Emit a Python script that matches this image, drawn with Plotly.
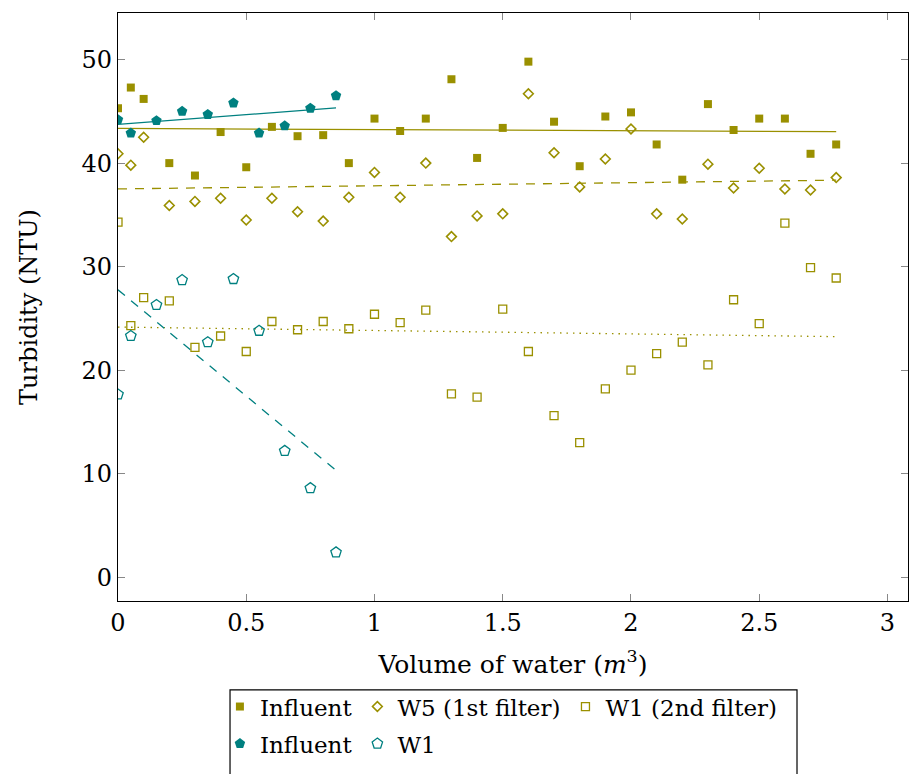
import numpy as np
import plotly.graph_objects as go

# ---- data ----
x_olive = [0, 0.05, 0.1, 0.2, 0.3, 0.4, 0.5, 0.6, 0.7, 0.8, 0.9, 1.0, 1.1, 1.2, 1.3,
           1.4, 1.5, 1.6, 1.7, 1.8, 1.9, 2.0, 2.1, 2.2, 2.3, 2.4, 2.5, 2.6, 2.7, 2.8]
influent_olive = [45.3, 47.3, 46.2, 40.0, 38.8, 43.0, 39.6, 43.5, 42.6, 42.7, 40.0, 44.3, 43.1, 44.3, 48.1,
                  40.5, 43.4, 49.8, 44.0, 39.7, 44.5, 44.9, 41.8, 38.4, 45.7, 43.2, 44.3, 44.3, 40.9, 41.8]
w5_first = [40.9, 39.8, 42.5, 35.9, 36.3, 36.6, 34.5, 36.6, 35.3, 34.4, 36.7, 39.1, 36.7, 40.0, 32.9,
            34.9, 35.1, 46.7, 41.0, 37.7, 40.4, 43.3, 35.1, 34.6, 39.9, 37.6, 39.5, 37.5, 37.4, 38.6]
w1_second = [34.3, 24.3, 27.0, 26.7, 22.2, 23.3, 21.8, 24.7, 23.9, 24.7, 24.0, 25.4, 24.6, 25.8, 17.7,
             17.4, 25.9, 21.8, 15.6, 13.0, 18.2, 20.0, 21.6, 22.7, 20.5, 26.8, 24.5, 34.2, 29.9, 28.9]

x_teal = [0, 0.05, 0.15, 0.25, 0.35, 0.45, 0.55, 0.65, 0.75, 0.85]
influent_teal = [44.2, 42.9, 44.1, 45.0, 44.7, 45.8, 42.9, 43.6, 45.3, 46.5]
w1_teal = [17.65, 23.3, 26.3, 28.7, 22.7, 28.8, 23.8, 12.2, 8.6, 2.4]

x_ticks = [0, 0.5, 1, 1.5, 2, 2.5, 3]
x_tick_labels = ["0", "0.5", "1", "1.5", "2", "2.5", "3"]
y_ticks = [0, 10, 20, 30, 40, 50]

OLIVE = "#9a9000"
TEAL = "#008080"
FONT = "DejaVu Serif"

fig = go.Figure()


def fit_line(x, y):
    x = np.asarray(x, float)
    a, b = np.polyfit(x, np.asarray(y, float), 1)
    xs = np.array([x.min(), x.max()])
    return xs, a * xs + b


# regression lines
for x, y, col, dash in [
    (x_olive, influent_olive, OLIVE, "solid"),
    (x_olive, w5_first, OLIVE, "9px,8px"),
    (x_olive, w1_second, OLIVE, "1.5px,5px"),
    (x_teal, influent_teal, TEAL, "solid"),
    (x_teal, w1_teal, TEAL, "9px,8px"),
]:
    xs, ys = fit_line(x, y)
    fig.add_trace(go.Scatter(x=xs, y=ys, mode="lines", showlegend=False, hoverinfo="skip",
                             line=dict(color=col, width=1.3, dash=dash)))

# markers
fig.add_trace(go.Scatter(x=x_olive, y=influent_olive, mode="markers", name="Influent",
                         marker=dict(symbol="square", size=8, color=OLIVE), legend="legend"))
fig.add_trace(go.Scatter(x=x_olive, y=w5_first, mode="markers", name="W5 (1st filter)",
                         marker=dict(symbol="diamond-open", size=7.5, color=OLIVE, line=dict(width=1.6)),
                         legend="legend"))
fig.add_trace(go.Scatter(x=x_olive, y=w1_second, mode="markers", name="W1 (2nd filter)",
                         marker=dict(symbol="square-open", size=8, color=OLIVE, line=dict(width=1.3)),
                         legend="legend"))
fig.add_trace(go.Scatter(x=x_teal, y=influent_teal, mode="markers", name="Influent",
                         marker=dict(symbol="pentagon", size=11, color=TEAL), legend="legend2"))
fig.add_trace(go.Scatter(x=x_teal, y=w1_teal, mode="markers", name="W1",
                         marker=dict(symbol="pentagon-open", size=11, color=TEAL, line=dict(width=1.3)),
                         legend="legend2"))

axis_common = dict(showline=True, linecolor="black", linewidth=1.2, mirror="ticks",
                   ticks="inside", ticklen=7, tickcolor="#888", tickwidth=1,
                   showgrid=False, zeroline=False,
                   tickfont=dict(family=FONT, size=24, color="black"))

fig.update_layout(
    width=909, height=774,
    margin=dict(l=118, r=1, t=13, b=173),
    plot_bgcolor="white", paper_bgcolor="white",
    font=dict(family=FONT, size=24, color="black"),
    xaxis=dict(range=[0, 3.08], tickvals=x_ticks, ticktext=x_tick_labels,
               title=dict(text="Volume of water (<i>m</i><sup>3</sup>)",
                          font=dict(family=FONT, size=25, color="black"), standoff=19),
               **axis_common),
    yaxis=dict(range=[-2.3, 54.5], tickvals=y_ticks,
               title=dict(text="Turbidity (NTU)", font=dict(family=FONT, size=24, color="black"),
                          standoff=37),
               **axis_common),
    legend=dict(orientation="h", x=0.129, y=-0.143, xanchor="left", yanchor="top",
                font=dict(family=FONT, size=23, color="black"), bgcolor="rgba(0,0,0,0)",
                borderwidth=0, itemwidth=30, tracegroupgap=0),
    legend2=dict(orientation="h", x=0.129, y=-0.206, xanchor="left", yanchor="top",
                 font=dict(family=FONT, size=23, color="black"), bgcolor="rgba(0,0,0,0)",
                 borderwidth=0, itemwidth=30),
    shapes=[dict(type="rect", xref="paper", yref="paper", x0=0.1418, x1=0.8595,
                 y0=-0.32, y1=-0.151, line=dict(color="black", width=1.2))],
)

fig.write_html("out.html")
